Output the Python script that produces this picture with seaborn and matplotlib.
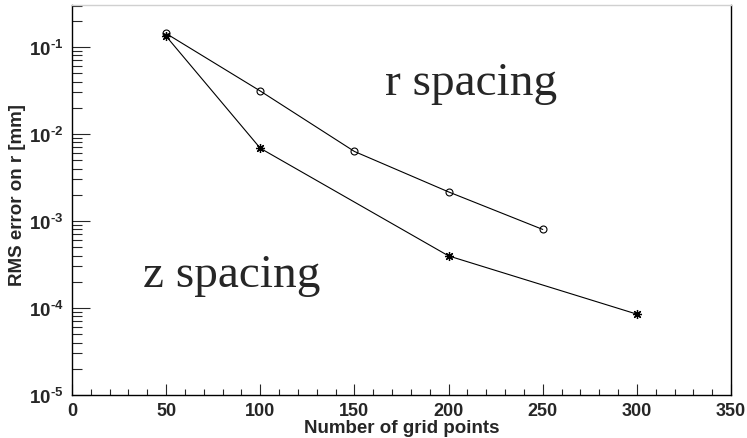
import matplotlib
matplotlib.use("Agg")
import matplotlib.pyplot as plt
import seaborn as sns
import pandas as pd
from matplotlib.ticker import LogLocator, FixedLocator, MultipleLocator, NullFormatter

# Data
r_x = [50, 100, 150, 200, 250]
r_y = [0.143, 0.0312, 0.0063, 0.00216, 0.00080]
z_x = [50, 100, 200, 300]
z_y = [0.133, 0.00686, 0.000397, 0.000085]
x_ticks = [0, 50, 100, 150, 200, 250, 300, 350]
y_ticks = [1e-5, 1e-4, 1e-3, 1e-2, 1e-1]
y_tick_labels = ["$10^{\u20105}$", "$10^{\u20104}$", "$10^{\u20103}$", "$10^{\u20102}$", "$10^{\u20101}$"]

sns.set_style("ticks")
plt.rcParams["font.family"] = ["Liberation Sans", "DejaVu Sans"]
plt.rcParams["mathtext.fontset"] = "custom"
plt.rcParams["mathtext.rm"] = "Liberation Sans:bold"
plt.rcParams["mathtext.it"] = "Liberation Sans:bold"
plt.rcParams["mathtext.bf"] = "Liberation Sans:bold"

df_r = pd.DataFrame({"x": r_x, "y": r_y})
df_z = pd.DataFrame({"x": z_x, "y": z_y})

fig = plt.figure(figsize=(7.47, 4.39), dpi=100)
ax = fig.add_axes([72 / 747, 43 / 439, 659 / 747, 390 / 439])

sns.lineplot(data=df_r, x="x", y="y", color="black", marker="o", sort=False,
             markersize=5, markeredgecolor="black", markerfacecolor="none",
             markeredgewidth=0.8, linewidth=0.8, ax=ax)
sns.lineplot(data=df_z, x="x", y="y", color="black", marker=(8, 2, 0), sort=False,
             markersize=6.5, markeredgecolor="black",
             markeredgewidth=0.9, linewidth=0.8, ax=ax)

ax.set_yscale("log")
ax.set_xlim(0, 350)
ax.set_ylim(1e-5, 0.304)

ax.xaxis.set_major_locator(FixedLocator(x_ticks))
ax.xaxis.set_minor_locator(MultipleLocator(10))
ax.set_xticklabels([str(t) for t in x_ticks], fontweight="bold", fontsize=13)
ax.yaxis.set_major_locator(FixedLocator(y_ticks))
ax.set_yticklabels(y_tick_labels, fontsize=13.5)
ax.yaxis.set_minor_locator(LogLocator(base=10, subs=range(2, 10)))
ax.yaxis.set_minor_formatter(NullFormatter())

ax.tick_params(axis="x", which="major", direction="in", length=8, width=0.8, pad=5)
ax.tick_params(axis="x", which="minor", direction="in", length=4.3, width=0.8)
ax.tick_params(axis="y", which="major", direction="in", length=13, width=0.8, pad=6)
ax.tick_params(axis="y", which="minor", direction="in", length=7, width=0.8)
ax.tick_params(which="both", top=False, right=False)
for s in ax.spines.values():
    s.set_linewidth(1.0)
    s.set_color("black")
ax.spines["top"].set_color("#d0d0d0")

ax.set_xlabel("Number of grid points", fontweight="bold", fontsize=13.5, labelpad=0)
ax.set_ylabel("RMS error on r [mm]", fontweight="bold", fontsize=13.5)
ax.yaxis.set_label_coords(-0.070, 0.515)

ax.text(0.475, 0.772, "r spacing", transform=ax.transAxes, ha="left", va="baseline",
        fontsize=34, family="Liberation Serif")
ax.text(0.108, 0.279, "z spacing", transform=ax.transAxes, ha="left", va="baseline",
        fontsize=34, family="Liberation Serif")

fig.savefig("out.png", dpi=100)
